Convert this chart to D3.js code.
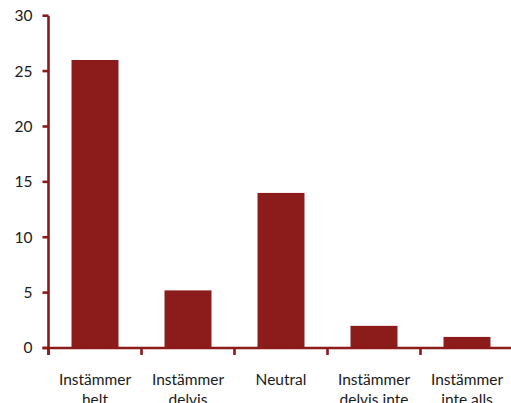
<!DOCTYPE html>
<html><head><meta charset="utf-8">
<script src="https://cdn.jsdelivr.net/npm/d3@7"></script>
<style>
html,body{margin:0;padding:0;background:#fff;overflow:hidden;}
svg{display:block;}
text{font-family:Lato,"Open Sans",sans-serif;fill:#1a1a1a;}
</style></head>
<body>
<script>
const categories = [["Instämmer","helt"],["Instämmer","delvis"],["Neutral"],["Instämmer","delvis inte"],["Instämmer","inte alls"]];
const values = [26, 5.2, 14, 2, 1];
const yTicks = [0, 5, 10, 15, 20, 25, 30];

const W = 511, H = 403;
const color = "#8C1C1B";
const axisColor = "#8B1A1A";
const mLeft = 48.5, mRight = 513.5, mTop = 15.7, mBottom = 348;

const svg = d3.select("body").append("svg").attr("width", W).attr("height", H);

const x = d3.scaleBand().domain(d3.range(categories.length)).range([mLeft, mRight])
  .paddingInner(0.495).paddingOuter(0.2475);
const y = d3.scaleLinear().domain([0, 30]).range([mBottom, mTop]);

// bars
svg.append("g").selectAll("rect").data(values).join("rect")
  .attr("x", (d, i) => x(i))
  .attr("y", d => y(d))
  .attr("width", x.bandwidth())
  .attr("height", d => y(0) - y(d))
  .attr("fill", color);

// y axis
const yAxis = svg.append("g");
yAxis.append("line").attr("x1", mLeft).attr("x2", mLeft).attr("y1", y(30)).attr("y2", mBottom + 7)
  .attr("stroke", axisColor).attr("stroke-width", 2.6);
yAxis.selectAll("line.t").data(yTicks).join("line").attr("class", "t")
  .attr("x1", mLeft - 6).attr("x2", mLeft).attr("y1", d => y(d)).attr("y2", d => y(d))
  .attr("stroke", axisColor).attr("stroke-width", 2.6);
yAxis.selectAll("text").data(yTicks).join("text")
  .attr("x", 32.5).attr("y", d => y(d)).attr("dy", "0.35em")
  .attr("text-anchor", "end").attr("font-size", 15.5).text(d => d);

// x axis
const xAxis = svg.append("g");
xAxis.append("line").attr("x1", mLeft - 6).attr("x2", W + 5).attr("y1", mBottom).attr("y2", mBottom)
  .attr("stroke", axisColor).attr("stroke-width", 2.6);
const bounds = d3.range(categories.length + 1).map(i => mLeft + i * x.step());
xAxis.selectAll("line.t").data(bounds).join("line").attr("class", "t")
  .attr("x1", d => d).attr("x2", d => d).attr("y1", mBottom).attr("y2", mBottom + 7)
  .attr("stroke", axisColor).attr("stroke-width", 2.6);
const lbl = xAxis.selectAll("text").data(categories).join("text")
  .attr("text-anchor", "middle").attr("font-size", 15.5)
  .attr("x", (d, i) => x(i) + x.bandwidth() / 2).attr("y", 384.5);
lbl.selectAll("tspan").data(d => d).join("tspan")
  .attr("x", function() { return this.parentNode.getAttribute("x"); })
  .attr("dy", (d, j) => j === 0 ? 0 : 20)
  .text(d => d);
</script>
</body></html>
